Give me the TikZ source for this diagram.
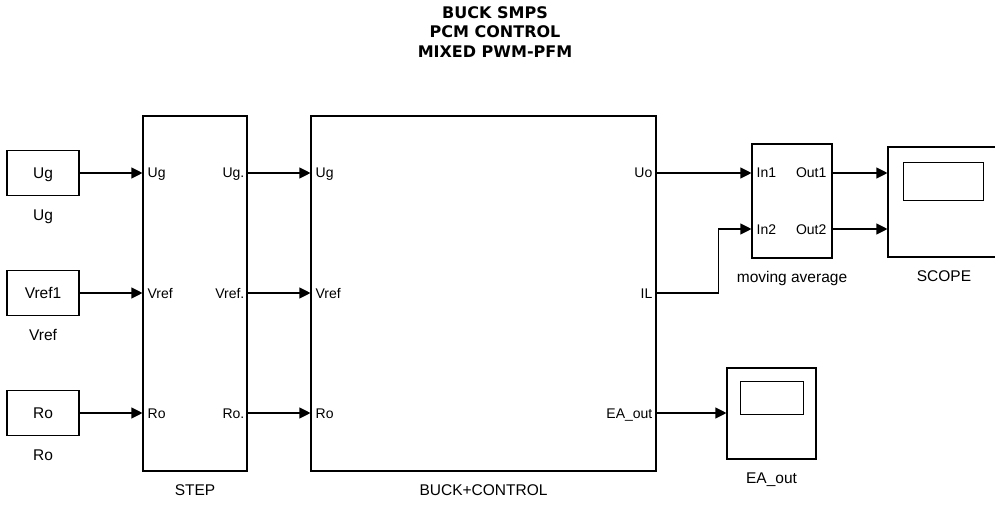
\documentclass[tikz,border=0pt]{standalone}
\usepackage{fontspec}
\setmainfont{Liberation Sans}
\newfontfamily\headfont{DejaVu Sans}
\usetikzlibrary{calc,positioning,arrows.meta}
\tikzset{
 sl block/.style={draw=black,line width=1.1pt,fill=white,inner sep=0pt,
                  font=\fontsize{15.5}{18}\selectfont,text height=11pt,text depth=0pt},
 sl signal/.style={line width=1.1pt,-{Triangle[length=11pt,width=11pt]}},
 sl wire/.style={line width=1.1pt},
 sl port/.style={inner sep=0pt,font=\fontsize{14}{16}\selectfont,
                 text height=10pt,text depth=0pt},
 sl name/.style={inner sep=0pt,font=\fontsize{15.5}{18}\selectfont,
                 text height=11pt,text depth=0pt},
 sl screen/.style={draw=black,line width=1.1pt}
}
\begin{document}
\begin{tikzpicture}[x=1pt,y=-1pt]
 \useasboundingbox (0,0) rectangle (995,505);
 % title
 \node[font=\headfont\bfseries\fontsize{16}{19.5}\selectfont,align=center,
       inner sep=0pt,anchor=north] (title) at (495,6)
   {BUCK SMPS\\PCM CONTROL\\MIXED PWM-PFM};
 % sources
 \node[sl block,minimum width=72pt,minimum height=45pt] (ugsrc) at (43,173) {Ug};
 \node[sl block,minimum width=72pt,minimum height=45pt] (vrefsrc) at (43,293) {Vref1};
 \node[sl block,minimum width=72pt,minimum height=45pt] (rosrc) at (43,413) {Ro};
 \node[sl name,below=13pt of ugsrc] (ugname) {Ug};
 \node[sl name,below=13pt of vrefsrc] (vrefname) {Vref};
 \node[sl name,below=13pt of rosrc] (roname) {Ro};
 % subsystems
 \node[sl block,minimum width=104pt,minimum height=355pt] (step) at (195,293.5) {};
 \node[sl block,minimum width=345pt,minimum height=355pt] (buck) at (483.5,293.5) {};
 \node[sl block,minimum width=80pt,minimum height=114pt] (ma) at (792,201) {};
 \node[sl name,below=13pt of step] (stepname) {STEP};
 \node[sl name,below=13pt of buck] (buckname) {BUCK+CONTROL};
 \node[sl name,below=13pt of ma] (maname) {moving average};
 % scopes
 \node[sl block,minimum width=112pt,minimum height=110pt] (scope) at (944,202) {};
 \draw[sl screen] ($(scope.north west)+(16,16)$) rectangle ++(80,38);
 \node[sl name,below=13pt of scope] (scopename) {SCOPE};
 \node[sl block,minimum width=89pt,minimum height=91pt] (eascope) at (771.5,413.5) {};
 \draw[sl screen] ($(eascope.north west)+(14,14)$) rectangle ++(63,33);
 \node[sl name,below=13pt of eascope] (eaname) {EA\_out};
 \coordinate (in2) at ($(ma.west)+(0,28)$);
 % port labels
 \foreach \s/\a/\b in {ugsrc/Ug/Ug., vrefsrc/Vref/Vref., rosrc/Ro/Ro.}{
   \node[sl port,anchor=west] at ($(step.west |- \s)+(5,0)$) {\a};
   \node[sl port,anchor=east] at ($(step.east |- \s)+(-3,0)$) {\b};
   \node[sl port,anchor=west] at ($(buck.west |- \s)+(5,0)$) {\a};
 }
 \foreach \s/\a in {ugsrc/Uo, vrefsrc/IL, rosrc/EA\_out}{
   \node[sl port,anchor=east] at ($(buck.east |- \s)+(-4,0)$) {\a};
 }
 \node[sl port,anchor=west] at ($(ma.west |- ugsrc)+(5,0)$) {In1};
 \node[sl port,anchor=west] at ($(ma.west |- in2)+(5,0)$) {In2};
 \node[sl port,anchor=east] at ($(ma.east |- ugsrc)+(-6,0)$) {Out1};
 \node[sl port,anchor=east] at ($(ma.east |- in2)+(-6,0)$) {Out2};
 % signals
 \foreach \s in {ugsrc,vrefsrc,rosrc}{
   \draw[sl signal] (\s) -- (\s -| step.west);
   \draw[sl signal] (step.east |- \s) -- (buck.west |- \s);
 }
 \draw[sl signal] (buck.east |- ugsrc) -- (ma.west |- ugsrc);
 \draw[sl signal] (buck.east |- vrefsrc) -- ++(62,0) |- (in2);
 \draw[sl signal] (ma.east |- ugsrc) -- (scope.west |- ugsrc);
 \draw[sl signal] (ma.east |- in2) -- (scope.west |- in2);
 \draw[sl signal] (buck.east |- rosrc) -- (eascope.west |- rosrc);
\end{tikzpicture}
\end{document}
